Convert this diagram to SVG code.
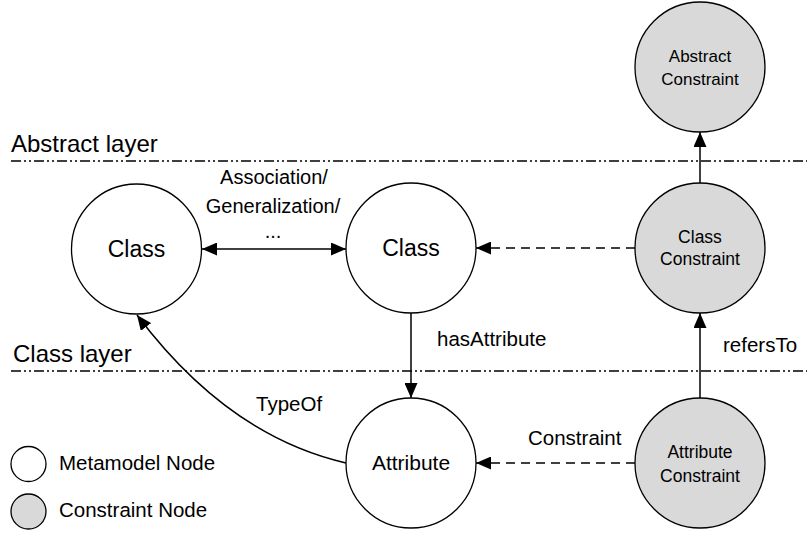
<svg xmlns="http://www.w3.org/2000/svg" width="807" height="536" viewBox="0 0 807 536">
<style>
text{font-family:"Liberation Sans",Arial,sans-serif;fill:#000}
.m{fill:#fff;stroke:#000;stroke-width:1.3}
.c{fill:#d9d9d9;stroke:#000;stroke-width:1.3}
.e{fill:none;stroke:#000;stroke-width:1.5}
.d{stroke-dasharray:9 6}
.layer{fill:none;stroke:#000;stroke-width:1.3;stroke-dasharray:10 3 2 3 2 3}
</style>
<defs>
<marker id="ah" markerWidth="15" markerHeight="13" refX="15" refY="6.5" orient="auto" markerUnits="userSpaceOnUse">
<path d="M0,0 L15,6.5 L0,13 Z" fill="#000"/>
</marker>
<marker id="as" markerWidth="15" markerHeight="13" refX="0" refY="6.5" orient="auto" markerUnits="userSpaceOnUse">
<path d="M15,0 L0,6.5 L15,13 Z" fill="#000"/>
</marker>
</defs>
<g id="layers">
<line class="layer" x1="11" y1="161" x2="807" y2="161"/>
<line class="layer" x1="11" y1="371" x2="807" y2="371"/>
<text x="11" y="152" font-size="24">Abstract layer</text>
<text x="13" y="362" font-size="24">Class layer</text>
</g>
<g id="connectors">
<line class="e" x1="202" y1="249" x2="346" y2="249" marker-start="url(#as)" marker-end="url(#ah)"/>
<line class="e d" x1="635" y1="248" x2="476" y2="248" marker-end="url(#ah)"/>
<line class="e" x1="700" y1="183" x2="700" y2="132" marker-end="url(#ah)"/>
<line class="e" x1="700" y1="398" x2="700" y2="313" marker-end="url(#ah)"/>
<line class="e" x1="411" y1="313" x2="411" y2="398" marker-end="url(#ah)"/>
<line class="e d" x1="635" y1="463" x2="476" y2="463" marker-end="url(#ah)"/>
<path class="e" d="M346,463 Q228,436 137,315" marker-end="url(#ah)"/>
<g font-size="20" text-anchor="middle">
<text x="274" y="184">Association/</text>
<text x="273" y="213">Generalization/</text>
<text x="273" y="238">...</text>
</g>
<text x="437" y="346" font-size="20.5">hasAttribute</text>
<text x="723" y="352" font-size="20.5">refersTo</text>
<text x="528" y="445" font-size="20.5">Constraint</text>
<text x="256" y="411" font-size="20.5">TypeOf</text>
</g>
<g id="class1">
<circle class="m" cx="136.5" cy="249" r="65"/>
<text x="136.5" y="257" font-size="23" text-anchor="middle">Class</text>
</g>
<g id="class2">
<circle class="m" cx="411" cy="248" r="65"/>
<text x="411" y="256" font-size="23" text-anchor="middle">Class</text>
</g>
<g id="attribute">
<circle class="m" cx="411" cy="463" r="65"/>
<text x="411" y="470" font-size="21" text-anchor="middle">Attribute</text>
</g>
<g id="abstractConstraint">
<circle class="c" cx="700" cy="67" r="65"/>
<text x="700" y="62" font-size="17" text-anchor="middle">Abstract</text>
<text x="700" y="85" font-size="17" text-anchor="middle">Constraint</text>
</g>
<g id="classConstraint">
<circle class="c" cx="700" cy="248" r="65"/>
<text x="700" y="243" font-size="17.5" text-anchor="middle">Class</text>
<text x="700" y="265" font-size="17.5" text-anchor="middle">Constraint</text>
</g>
<g id="attributeConstraint">
<circle class="c" cx="700" cy="463" r="65"/>
<text x="700" y="458" font-size="17.5" text-anchor="middle">Attribute</text>
<text x="700" y="482" font-size="17.5" text-anchor="middle">Constraint</text>
</g>
<g id="legend">
<circle class="m" cx="28.5" cy="464" r="17.5"/>
<circle class="c" cx="28.5" cy="511.5" r="17.5"/>
<text x="59" y="470" font-size="20.5">Metamodel Node</text>
<text x="59" y="517" font-size="20.5">Constraint Node</text>
</g>
</svg>
